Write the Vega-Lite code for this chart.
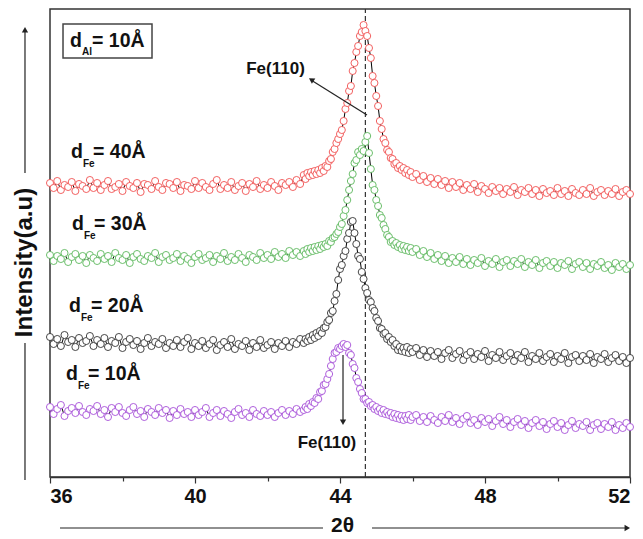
{
"$schema":"https://vega.github.io/schema/vega-lite/v6.json",
"autosize":"none",
"width":580,"height":468,
"padding":{"left":50,"top":9,"right":13,"bottom":62},
"background":"white",
"config":{"view":{"stroke":"#333","strokeWidth":1.5},"font":"Liberation Sans","axis":{"grid":false}},
"datasets":{
"r":[{"x":36,"y":294},{"x":36.1,"y":289},{"x":36.2,"y":296},{"x":36.3,"y":287},{"x":36.4,"y":292},{"x":36.5,"y":290},{"x":36.6,"y":295},{"x":36.7,"y":286},{"x":36.8,"y":293},{"x":36.9,"y":291},
{"x":37,"y":288},{"x":37.1,"y":297},{"x":37.2,"y":289},{"x":37.3,"y":294},{"x":37.4,"y":287},{"x":37.5,"y":292},{"x":37.6,"y":296},{"x":37.7,"y":288},{"x":37.8,"y":290},{"x":37.9,"y":293},
{"x":38,"y":286},{"x":38.1,"y":295},{"x":38.2,"y":291},{"x":38.3,"y":289},{"x":38.4,"y":294},{"x":38.5,"y":285},{"x":38.6,"y":293},{"x":38.7,"y":292},{"x":38.8,"y":288},{"x":38.9,"y":296},
{"x":39,"y":290},{"x":39.1,"y":287},{"x":39.2,"y":294},{"x":39.3,"y":293},{"x":39.4,"y":289},{"x":39.5,"y":295},{"x":39.6,"y":286},{"x":39.7,"y":292},{"x":39.8,"y":291},{"x":39.9,"y":288},
{"x":40,"y":296},{"x":40.1,"y":289},{"x":40.2,"y":294},{"x":40.3,"y":290},{"x":40.4,"y":287},{"x":40.5,"y":293},{"x":40.6,"y":297},{"x":40.7,"y":288},{"x":40.8,"y":292},{"x":40.9,"y":289},
{"x":41,"y":295},{"x":41.1,"y":287},{"x":41.2,"y":291},{"x":41.3,"y":294},{"x":41.4,"y":286},{"x":41.5,"y":293},{"x":41.6,"y":290},{"x":41.7,"y":296},{"x":41.8,"y":288},{"x":41.9,"y":292},
{"x":42,"y":289},{"x":42.1,"y":295},{"x":42.2,"y":291},{"x":42.3,"y":287},{"x":42.4,"y":294},{"x":42.5,"y":292},{"x":42.6,"y":295},{"x":42.7,"y":290},{"x":42.8,"y":297},{"x":42.9,"y":293},
{"x":43,"y":302},{"x":43.05,"y":298},{"x":43.1,"y":304},{"x":43.15,"y":301},{"x":43.2,"y":305},{"x":43.25,"y":302},{"x":43.3,"y":306},{"x":43.35,"y":303},{"x":43.4,"y":307},{"x":43.45,"y":304},
{"x":43.5,"y":309},{"x":43.55,"y":306},{"x":43.6,"y":311},{"x":43.65,"y":310},{"x":43.7,"y":316},{"x":43.75,"y":318},{"x":43.8,"y":325},{"x":43.85,"y":328},{"x":43.9,"y":334},{"x":43.95,"y":338},
{"x":44,"y":343},{"x":44.05,"y":347},{"x":44.1,"y":356},{"x":44.15,"y":368},{"x":44.2,"y":374},{"x":44.25,"y":386},{"x":44.3,"y":391},{"x":44.35,"y":406},{"x":44.4,"y":414},{"x":44.45,"y":425},
{"x":44.5,"y":431},{"x":44.55,"y":441},{"x":44.6,"y":445},{"x":44.65,"y":452},{"x":44.7,"y":446},{"x":44.75,"y":441},{"x":44.8,"y":429},{"x":44.85,"y":419},{"x":44.9,"y":401},{"x":44.95,"y":394},
{"x":45,"y":381},{"x":45.05,"y":371},{"x":45.1,"y":356},{"x":45.15,"y":348},{"x":45.2,"y":338},{"x":45.25,"y":334},{"x":45.3,"y":327},{"x":45.35,"y":325},{"x":45.4,"y":319},{"x":45.45,"y":318},
{"x":45.5,"y":313},{"x":45.55,"y":314},{"x":45.6,"y":309},{"x":45.65,"y":311},{"x":45.7,"y":307},{"x":45.75,"y":309},{"x":45.8,"y":304},{"x":45.85,"y":307},{"x":45.9,"y":302},{"x":45.95,"y":305},{"x":46,"y":300},
{"x":46.1,"y":303},{"x":46.2,"y":297},{"x":46.3,"y":301},{"x":46.4,"y":295},{"x":46.5,"y":299},{"x":46.6,"y":293},{"x":46.7,"y":298},{"x":46.8,"y":292},{"x":46.9,"y":296},{"x":47,"y":289},
{"x":47.1,"y":295},{"x":47.2,"y":290},{"x":47.3,"y":294},{"x":47.4,"y":287},{"x":47.5,"y":292},{"x":47.6,"y":288},{"x":47.7,"y":293},{"x":47.8,"y":285},{"x":47.9,"y":291},{"x":48,"y":288},
{"x":48.1,"y":284},{"x":48.2,"y":290},{"x":48.3,"y":286},{"x":48.4,"y":289},{"x":48.5,"y":283},{"x":48.6,"y":288},{"x":48.7,"y":285},{"x":48.8,"y":290},{"x":48.9,"y":282},{"x":49,"y":287},
{"x":49.1,"y":285},{"x":49.2,"y":289},{"x":49.3,"y":283},{"x":49.4,"y":287},{"x":49.5,"y":281},{"x":49.6,"y":288},{"x":49.7,"y":284},{"x":49.8,"y":286},{"x":49.9,"y":282},{"x":50,"y":289},
{"x":50.1,"y":283},{"x":50.2,"y":286},{"x":50.3,"y":281},{"x":50.4,"y":288},{"x":50.5,"y":284},{"x":50.6,"y":282},{"x":50.7,"y":287},{"x":50.8,"y":283},{"x":50.9,"y":289},{"x":51,"y":281},
{"x":51.1,"y":285},{"x":51.2,"y":287},{"x":51.3,"y":282},{"x":51.4,"y":286},{"x":51.5,"y":283},{"x":51.6,"y":288},{"x":51.7,"y":281},{"x":51.8,"y":285},{"x":51.9,"y":287},{"x":52,"y":283}],
"g":[{"x":36,"y":222},{"x":36.1,"y":216},{"x":36.2,"y":221},{"x":36.3,"y":218},{"x":36.4,"y":224},{"x":36.5,"y":215},{"x":36.6,"y":220},{"x":36.7,"y":223},{"x":36.8,"y":217},{"x":36.9,"y":221},
{"x":37,"y":214},{"x":37.1,"y":222},{"x":37.2,"y":219},{"x":37.3,"y":216},{"x":37.4,"y":223},{"x":37.5,"y":218},{"x":37.6,"y":221},{"x":37.7,"y":215},{"x":37.8,"y":224},{"x":37.9,"y":219},
{"x":38,"y":217},{"x":38.1,"y":222},{"x":38.2,"y":214},{"x":38.3,"y":220},{"x":38.4,"y":223},{"x":38.5,"y":218},{"x":38.6,"y":216},{"x":38.7,"y":221},{"x":38.8,"y":219},{"x":38.9,"y":224},
{"x":39,"y":215},{"x":39.1,"y":220},{"x":39.2,"y":222},{"x":39.3,"y":217},{"x":39.4,"y":219},{"x":39.5,"y":223},{"x":39.6,"y":216},{"x":39.7,"y":221},{"x":39.8,"y":218},{"x":39.9,"y":214},
{"x":40,"y":220},{"x":40.1,"y":223},{"x":40.2,"y":217},{"x":40.3,"y":219},{"x":40.4,"y":222},{"x":40.5,"y":215},{"x":40.6,"y":221},{"x":40.7,"y":218},{"x":40.8,"y":224},{"x":40.9,"y":216},
{"x":41,"y":220},{"x":41.1,"y":217},{"x":41.2,"y":223},{"x":41.3,"y":219},{"x":41.4,"y":215},{"x":41.5,"y":222},{"x":41.6,"y":220},{"x":41.7,"y":217},{"x":41.8,"y":224},{"x":41.9,"y":219},
{"x":42,"y":222},{"x":42.1,"y":218},{"x":42.2,"y":225},{"x":42.3,"y":220},{"x":42.4,"y":223},{"x":42.5,"y":219},{"x":42.6,"y":226},{"x":42.7,"y":222},{"x":42.8,"y":225},{"x":42.9,"y":221},
{"x":43,"y":226},{"x":43.05,"y":223},{"x":43.1,"y":228},{"x":43.15,"y":225},{"x":43.2,"y":229},{"x":43.25,"y":226},{"x":43.3,"y":230},{"x":43.35,"y":227},{"x":43.4,"y":231},{"x":43.45,"y":228},
{"x":43.5,"y":232},{"x":43.55,"y":230},{"x":43.6,"y":233},{"x":43.65,"y":231},{"x":43.7,"y":236},{"x":43.75,"y":235},{"x":43.8,"y":239},{"x":43.85,"y":240},{"x":43.9,"y":243},{"x":43.95,"y":245},
{"x":44,"y":250},{"x":44.05,"y":253},{"x":44.1,"y":261},{"x":44.15,"y":267},{"x":44.2,"y":277},{"x":44.25,"y":287},{"x":44.3,"y":296},{"x":44.35,"y":303},{"x":44.4,"y":314},{"x":44.45,"y":317},
{"x":44.5,"y":325},{"x":44.55,"y":322},{"x":44.6,"y":328},{"x":44.65,"y":326},{"x":44.7,"y":335},{"x":44.75,"y":341},{"x":44.8,"y":324},{"x":44.85,"y":308},{"x":44.9,"y":292},{"x":44.95,"y":287},
{"x":45,"y":277},{"x":45.05,"y":271},{"x":45.1,"y":262},{"x":45.15,"y":259},{"x":45.2,"y":252},{"x":45.25,"y":248},{"x":45.3,"y":242},{"x":45.35,"y":240},{"x":45.4,"y":235},{"x":45.45,"y":236},
{"x":45.5,"y":232},{"x":45.55,"y":234},{"x":45.6,"y":230},{"x":45.65,"y":232},{"x":45.7,"y":228},{"x":45.75,"y":231},{"x":45.8,"y":227},{"x":45.85,"y":230},{"x":45.9,"y":226},{"x":45.95,"y":229},{"x":46,"y":225},
{"x":46.1,"y":228},{"x":46.2,"y":222},{"x":46.3,"y":226},{"x":46.4,"y":220},{"x":46.5,"y":224},{"x":46.6,"y":218},{"x":46.7,"y":222},{"x":46.8,"y":216},{"x":46.9,"y":221},{"x":47,"y":214},
{"x":47.1,"y":219},{"x":47.2,"y":215},{"x":47.3,"y":220},{"x":47.4,"y":213},{"x":47.5,"y":218},{"x":47.6,"y":212},{"x":47.7,"y":217},{"x":47.8,"y":214},{"x":47.9,"y":219},{"x":48,"y":211},
{"x":48.1,"y":216},{"x":48.2,"y":213},{"x":48.3,"y":218},{"x":48.4,"y":210},{"x":48.5,"y":215},{"x":48.6,"y":217},{"x":48.7,"y":211},{"x":48.8,"y":216},{"x":48.9,"y":213},{"x":49,"y":218},
{"x":49.1,"y":210},{"x":49.2,"y":215},{"x":49.3,"y":212},{"x":49.4,"y":217},{"x":49.5,"y":209},{"x":49.6,"y":214},{"x":49.7,"y":216},{"x":49.8,"y":211},{"x":49.9,"y":215},{"x":50,"y":209},
{"x":50.1,"y":214},{"x":50.2,"y":212},{"x":50.3,"y":216},{"x":50.4,"y":208},{"x":50.5,"y":213},{"x":50.6,"y":215},{"x":50.7,"y":210},{"x":50.8,"y":214},{"x":50.9,"y":208},{"x":51,"y":213},
{"x":51.1,"y":211},{"x":51.2,"y":215},{"x":51.3,"y":209},{"x":51.4,"y":212},{"x":51.5,"y":207},{"x":51.6,"y":214},{"x":51.7,"y":210},{"x":51.8,"y":213},{"x":51.9,"y":208},{"x":52,"y":212}],
"k":[{"x":36,"y":140},{"x":36.1,"y":133},{"x":36.2,"y":138},{"x":36.3,"y":131},{"x":36.4,"y":142},{"x":36.5,"y":135},{"x":36.6,"y":137},{"x":36.7,"y":130},{"x":36.8,"y":139},{"x":36.9,"y":134},
{"x":37,"y":136},{"x":37.1,"y":141},{"x":37.2,"y":131},{"x":37.3,"y":137},{"x":37.4,"y":133},{"x":37.5,"y":139},{"x":37.6,"y":130},{"x":37.7,"y":136},{"x":37.8,"y":134},{"x":37.9,"y":140},
{"x":38,"y":129},{"x":38.1,"y":135},{"x":38.2,"y":138},{"x":38.3,"y":132},{"x":38.4,"y":136},{"x":38.5,"y":128},{"x":38.6,"y":134},{"x":38.7,"y":139},{"x":38.8,"y":131},{"x":38.9,"y":135},
{"x":39,"y":133},{"x":39.1,"y":138},{"x":39.2,"y":129},{"x":39.3,"y":134},{"x":39.4,"y":131},{"x":39.5,"y":137},{"x":39.6,"y":130},{"x":39.7,"y":135},{"x":39.8,"y":139},{"x":39.9,"y":128},
{"x":40,"y":134},{"x":40.1,"y":131},{"x":40.2,"y":136},{"x":40.3,"y":129},{"x":40.4,"y":133},{"x":40.5,"y":137},{"x":40.6,"y":127},{"x":40.7,"y":132},{"x":40.8,"y":135},{"x":40.9,"y":130},
{"x":41,"y":138},{"x":41.1,"y":128},{"x":41.2,"y":133},{"x":41.3,"y":131},{"x":41.4,"y":136},{"x":41.5,"y":127},{"x":41.6,"y":134},{"x":41.7,"y":130},{"x":41.8,"y":137},{"x":41.9,"y":129},
{"x":42,"y":132},{"x":42.1,"y":135},{"x":42.2,"y":128},{"x":42.3,"y":134},{"x":42.4,"y":131},{"x":42.5,"y":136},{"x":42.6,"y":130},{"x":42.7,"y":135},{"x":42.8,"y":133},{"x":42.9,"y":138},
{"x":43,"y":134},{"x":43.05,"y":138},{"x":43.1,"y":136},{"x":43.15,"y":140},{"x":43.2,"y":137},{"x":43.25,"y":142},{"x":43.3,"y":139},{"x":43.35,"y":144},{"x":43.4,"y":141},{"x":43.45,"y":146},
{"x":43.5,"y":144},{"x":43.55,"y":149},{"x":43.6,"y":150},{"x":43.65,"y":155},{"x":43.7,"y":157},{"x":43.75,"y":164},{"x":43.8,"y":166},{"x":43.85,"y":176},{"x":43.9,"y":183},{"x":43.95,"y":197},
{"x":44,"y":208},{"x":44.05,"y":212},{"x":44.1,"y":221},{"x":44.15,"y":226},{"x":44.2,"y":238},{"x":44.25,"y":244},{"x":44.3,"y":255},{"x":44.35,"y":256},{"x":44.4,"y":244},{"x":44.45,"y":233},
{"x":44.5,"y":221},{"x":44.55,"y":218},{"x":44.6,"y":205},{"x":44.65,"y":198},{"x":44.7,"y":189},{"x":44.75,"y":184},{"x":44.8,"y":177},{"x":44.85,"y":175},{"x":44.9,"y":169},{"x":44.95,"y":166},
{"x":45,"y":159},{"x":45.05,"y":156},{"x":45.1,"y":149},{"x":45.15,"y":148},{"x":45.2,"y":143},{"x":45.25,"y":144},{"x":45.3,"y":138},{"x":45.35,"y":140},{"x":45.4,"y":135},{"x":45.45,"y":137},
{"x":45.5,"y":131},{"x":45.55,"y":133},{"x":45.6,"y":127},{"x":45.65,"y":130},{"x":45.7,"y":126},{"x":45.75,"y":129},{"x":45.8,"y":125},{"x":45.85,"y":130},{"x":45.9,"y":124},{"x":45.95,"y":128},{"x":46,"y":125},
{"x":46.1,"y":129},{"x":46.2,"y":122},{"x":46.3,"y":127},{"x":46.4,"y":120},{"x":46.5,"y":126},{"x":46.6,"y":121},{"x":46.7,"y":125},{"x":46.8,"y":118},{"x":46.9,"y":124},{"x":47,"y":127},
{"x":47.1,"y":119},{"x":47.2,"y":123},{"x":47.3,"y":126},{"x":47.4,"y":117},{"x":47.5,"y":122},{"x":47.6,"y":125},{"x":47.7,"y":118},{"x":47.8,"y":123},{"x":47.9,"y":120},{"x":48,"y":126},
{"x":48.1,"y":116},{"x":48.2,"y":122},{"x":48.3,"y":119},{"x":48.4,"y":125},{"x":48.5,"y":117},{"x":48.6,"y":121},{"x":48.7,"y":124},{"x":48.8,"y":116},{"x":48.9,"y":122},{"x":49,"y":119},
{"x":49.1,"y":125},{"x":49.2,"y":115},{"x":49.3,"y":121},{"x":49.4,"y":118},{"x":49.5,"y":124},{"x":49.6,"y":116},{"x":49.7,"y":120},{"x":49.8,"y":123},{"x":49.9,"y":115},{"x":50,"y":121},
{"x":50.1,"y":118},{"x":50.2,"y":124},{"x":50.3,"y":114},{"x":50.4,"y":120},{"x":50.5,"y":122},{"x":50.6,"y":116},{"x":50.7,"y":121},{"x":50.8,"y":117},{"x":50.9,"y":123},{"x":51,"y":114},
{"x":51.1,"y":120},{"x":51.2,"y":118},{"x":51.3,"y":123},{"x":51.4,"y":115},{"x":51.5,"y":119},{"x":51.6,"y":122},{"x":51.7,"y":116},{"x":51.8,"y":120},{"x":51.9,"y":114},{"x":52,"y":119}],
"p":[{"x":36,"y":70},{"x":36.1,"y":63},{"x":36.2,"y":68},{"x":36.3,"y":72},{"x":36.4,"y":61},{"x":36.5,"y":66},{"x":36.6,"y":69},{"x":36.7,"y":64},{"x":36.8,"y":71},{"x":36.9,"y":65},
{"x":37,"y":62},{"x":37.1,"y":68},{"x":37.2,"y":66},{"x":37.3,"y":71},{"x":37.4,"y":63},{"x":37.5,"y":67},{"x":37.6,"y":60},{"x":37.7,"y":69},{"x":37.8,"y":65},{"x":37.9,"y":70},
{"x":38,"y":64},{"x":38.1,"y":61},{"x":38.2,"y":67},{"x":38.3,"y":70},{"x":38.4,"y":63},{"x":38.5,"y":66},{"x":38.6,"y":60},{"x":38.7,"y":68},{"x":38.8,"y":65},{"x":38.9,"y":62},
{"x":39,"y":69},{"x":39.1,"y":64},{"x":39.2,"y":67},{"x":39.3,"y":59},{"x":39.4,"y":66},{"x":39.5,"y":62},{"x":39.6,"y":68},{"x":39.7,"y":63},{"x":39.8,"y":65},{"x":39.9,"y":60},
{"x":40,"y":67},{"x":40.1,"y":62},{"x":40.2,"y":65},{"x":40.3,"y":69},{"x":40.4,"y":60},{"x":40.5,"y":64},{"x":40.6,"y":67},{"x":40.7,"y":61},{"x":40.8,"y":66},{"x":40.9,"y":63},
{"x":41,"y":59},{"x":41.1,"y":65},{"x":41.2,"y":68},{"x":41.3,"y":62},{"x":41.4,"y":64},{"x":41.5,"y":60},{"x":41.6,"y":67},{"x":41.7,"y":63},{"x":41.8,"y":61},{"x":41.9,"y":66},
{"x":42,"y":62},{"x":42.1,"y":65},{"x":42.2,"y":60},{"x":42.3,"y":64},{"x":42.4,"y":67},{"x":42.5,"y":62},{"x":42.6,"y":66},{"x":42.7,"y":63},{"x":42.8,"y":68},{"x":42.9,"y":65},
{"x":43,"y":67},{"x":43.05,"y":70},{"x":43.1,"y":68},{"x":43.15,"y":73},{"x":43.2,"y":71},{"x":43.25,"y":75},{"x":43.3,"y":74},{"x":43.35,"y":79},{"x":43.4,"y":78},{"x":43.45,"y":85},
{"x":43.5,"y":86},{"x":43.55,"y":92},{"x":43.6,"y":93},{"x":43.65,"y":98},{"x":43.7,"y":103},{"x":43.75,"y":111},{"x":43.8,"y":118},{"x":43.85,"y":124},{"x":43.9,"y":125},{"x":43.95,"y":129},
{"x":44,"y":128},{"x":44.05,"y":131},{"x":44.1,"y":133},{"x":44.15,"y":130},{"x":44.2,"y":132},{"x":44.25,"y":124},{"x":44.3,"y":122},{"x":44.35,"y":113},{"x":44.4,"y":109},{"x":44.45,"y":99},
{"x":44.5,"y":95},{"x":44.55,"y":88},{"x":44.6,"y":84},{"x":44.65,"y":78},{"x":44.7,"y":78},{"x":44.75,"y":74},{"x":44.8,"y":75},{"x":44.85,"y":71},{"x":44.9,"y":72},{"x":44.95,"y":68},
{"x":45,"y":70},{"x":45.05,"y":66},{"x":45.1,"y":68},{"x":45.15,"y":64},{"x":45.2,"y":67},{"x":45.25,"y":63},{"x":45.3,"y":65},{"x":45.35,"y":62},{"x":45.4,"y":64},{"x":45.45,"y":60},
{"x":45.5,"y":63},{"x":45.55,"y":59},{"x":45.6,"y":62},{"x":45.65,"y":58},{"x":45.7,"y":61},{"x":45.75,"y":57},{"x":45.8,"y":61},{"x":45.85,"y":58},{"x":45.9,"y":62},{"x":45.95,"y":57},{"x":46,"y":60},
{"x":46.1,"y":62},{"x":46.2,"y":56},{"x":46.3,"y":60},{"x":46.4,"y":55},{"x":46.5,"y":61},{"x":46.6,"y":57},{"x":46.7,"y":54},{"x":46.8,"y":60},{"x":46.9,"y":56},{"x":47,"y":62},
{"x":47.1,"y":55},{"x":47.2,"y":59},{"x":47.3,"y":53},{"x":47.4,"y":58},{"x":47.5,"y":61},{"x":47.6,"y":54},{"x":47.7,"y":57},{"x":47.8,"y":52},{"x":47.9,"y":59},{"x":48,"y":55},
{"x":48.1,"y":58},{"x":48.2,"y":51},{"x":48.3,"y":56},{"x":48.4,"y":60},{"x":48.5,"y":53},{"x":48.6,"y":57},{"x":48.7,"y":50},{"x":48.8,"y":55},{"x":48.9,"y":58},{"x":49,"y":52},
{"x":49.1,"y":56},{"x":49.2,"y":49},{"x":49.3,"y":54},{"x":49.4,"y":57},{"x":49.5,"y":51},{"x":49.6,"y":55},{"x":49.7,"y":48},{"x":49.8,"y":53},{"x":49.9,"y":56},{"x":50,"y":50},
{"x":50.1,"y":54},{"x":50.2,"y":47},{"x":50.3,"y":52},{"x":50.4,"y":56},{"x":50.5,"y":49},{"x":50.6,"y":53},{"x":50.7,"y":51},{"x":50.8,"y":55},{"x":50.9,"y":47},{"x":51,"y":52},
{"x":51.1,"y":54},{"x":51.2,"y":48},{"x":51.3,"y":53},{"x":51.4,"y":50},{"x":51.5,"y":55},{"x":51.6,"y":47},{"x":51.7,"y":52},{"x":51.8,"y":49},{"x":51.9,"y":54},{"x":52,"y":50}],
"lb":[{"x":36.552,"y":430,"t":"d"},{"x":37.159,"y":430,"t":"= 10Å"},
{"x":36.579,"y":319,"t":"d"},{"x":37.186,"y":319,"t":"= 40Å"},
{"x":36.607,"y":247,"t":"d"},{"x":37.214,"y":247,"t":"= 30Å"},
{"x":36.524,"y":165,"t":"d"},{"x":37.131,"y":165,"t":"= 20Å"},
{"x":36.441,"y":97,"t":"d"},{"x":37.048,"y":97,"t":"= 10Å"}],
"ls":[{"x":36.883,"y":422,"t":"Al"},{"x":36.91,"y":310,"t":"Fe"},{"x":36.938,"y":238,"t":"Fe"},{"x":36.855,"y":156,"t":"Fe"},{"x":36.772,"y":88,"t":"Fe"}],
"lf":[{"x":42.221,"y":403,"t":"Fe(110)"},{"x":43.641,"y":29,"t":"Fe(110)"}],
"ar":[{"x":44.745,"y":362,"x2":43.2,"y2":397},{"x":44.083,"y":122,"x2":44.083,"y2":56},
{"x":36.276,"y":-51,"x2":43.531,"y2":-51},{"x":44.883,"y":-51,"x2":51.93,"y2":-51},
{"x":35.31,"y":-3,"x2":35.31,"y2":134},{"x":35.31,"y":304,"x2":35.31,"y2":446}],
"dl":[{"x":44.7,"y":0,"y2":468}]
},
"encoding":{
"x":{"field":"x","type":"quantitative","scale":{"domain":[36,52],"nice":false,"zero":false},
"axis":{"values":[36,38,40,42,44,46,48,50,52],"format":"d","labelExpr":"datum.value % 4 === 0 ? datum.label : ''",
"tickSize":{"condition":{"test":"datum.value % 4 === 0","value":6},"value":4},
"tickColor":"#333","tickWidth":1.2,"domainColor":"#333","domainWidth":1.5,
"labelFont":"Liberation Sans","labelFontSize":20,"labelFontWeight":"bold","labelColor":"#111","labelPadding":3,
"title":"2θ","titleFont":"Liberation Sans","titleFontSize":21,"titleFontWeight":"bold","titleColor":"#111","titleX":292,"titleY":48,"titleBaseline":"middle","titleAlign":"center"}},
"y":{"field":"y","type":"quantitative","scale":{"domain":[0,468],"nice":false,"zero":false},
"axis":{"labels":false,"ticks":false,"domain":false,"title":"Intensity(a.u)","titleFont":"Liberation Sans","titleFontSize":24,"titleFontWeight":"bold","titleColor":"#111","titleAngle":270,"titleX":-26,"titleY":253,"titleAlign":"center","titleBaseline":"middle"}}
},
"layer":[
{"data":{"name":"dl"},"mark":{"type":"rule","color":"#333","strokeWidth":1.2,"strokeDash":[5,3]},"encoding":{"y2":{"field":"y2"}}},
{"data":{"name":"p"},"mark":{"type":"line","color":"#000","strokeWidth":1}},
{"data":{"name":"p"},"mark":{"type":"point","shape":"circle","filled":true,"fill":"white","stroke":"#a64fd8","strokeWidth":0.9,"size":50,"opacity":1}},
{"data":{"name":"k"},"mark":{"type":"line","color":"#000","strokeWidth":1}},
{"data":{"name":"k"},"mark":{"type":"point","shape":"circle","filled":true,"fill":"white","stroke":"#333333","strokeWidth":0.9,"size":50,"opacity":1}},
{"data":{"name":"g"},"mark":{"type":"line","color":"#000","strokeWidth":1}},
{"data":{"name":"g"},"mark":{"type":"point","shape":"circle","filled":true,"fill":"white","stroke":"#5cb85c","strokeWidth":0.9,"size":50,"opacity":1}},
{"data":{"name":"r"},"mark":{"type":"line","color":"#000","strokeWidth":1}},
{"data":{"name":"r"},"mark":{"type":"point","shape":"circle","filled":true,"fill":"white","stroke":"#f05050","strokeWidth":0.9,"size":50,"opacity":1}},
{"data":{"values":[{"x":36.359,"y":453,"x2":38.814,"y2":419}]},"mark":{"type":"rect","fill":null,"stroke":"#444","strokeWidth":1.5},"encoding":{"x2":{"field":"x2"},"y2":{"field":"y2"}}},
{"data":{"name":"lb"},"mark":{"type":"text","align":"left","baseline":"alphabetic","font":"Liberation Sans","fontSize":19.5,"fontWeight":"bold","color":"#111"},"encoding":{"text":{"field":"t"}}},
{"data":{"name":"ls"},"mark":{"type":"text","align":"left","baseline":"alphabetic","font":"Liberation Sans","fontSize":10,"fontWeight":"bold","color":"#111"},"encoding":{"text":{"field":"t"}}},
{"data":{"name":"lf"},"mark":{"type":"text","align":"center","baseline":"alphabetic","font":"Liberation Sans","fontSize":17,"fontWeight":"bold","color":"#111"},"encoding":{"text":{"field":"t"}}},
{"data":{"name":"ar"},"mark":{"type":"rule","color":"#222","strokeWidth":1.2},"encoding":{"x2":{"field":"x2"},"y2":{"field":"y2"}}},
{"data":{"values":[{"x":43.208,"y":397.3}]},"mark":{"type":"point","shape":"triangle-up","angle":302.6,"filled":true,"color":"#222","size":40,"opacity":1}},
{"data":{"values":[{"x":44.083,"y":54.7}]},"mark":{"type":"point","shape":"triangle-down","filled":true,"color":"#222","size":40,"opacity":1}},
{"data":{"values":[{"x":35.31,"y":447.3}]},"mark":{"type":"point","shape":"triangle-up","filled":true,"color":"#222","size":40,"opacity":1}},
{"data":{"values":[{"x":51.925,"y":-51}]},"mark":{"type":"point","shape":"triangle-right","filled":true,"color":"#222","size":40,"opacity":1}}
]
}
